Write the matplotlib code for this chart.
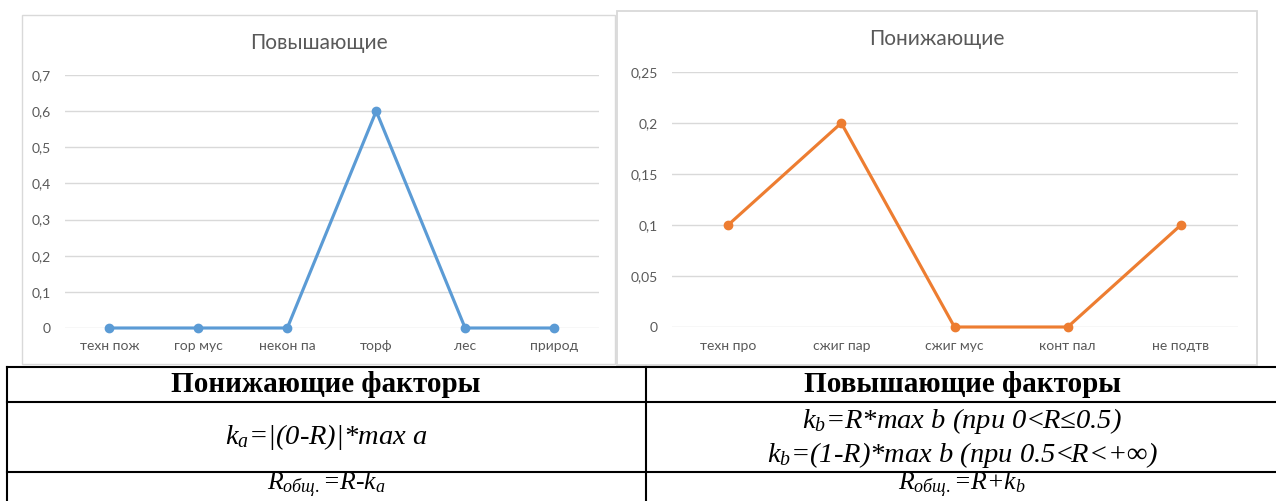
import matplotlib.pyplot as plt
from matplotlib.patches import Rectangle
from matplotlib.lines import Line2D

# chart data
up_title = 'Повышающие'
up_cats = ['техн пож', 'гор мус', 'некон па', 'торф', 'лес', 'природ']
up_vals = [0, 0, 0, 0.6, 0, 0]
up_ticks = [0, 0.1, 0.2, 0.3, 0.4, 0.5, 0.6, 0.7]
up_ticklabels = ['0', '0,1', '0,2', '0,3', '0,4', '0,5', '0,6', '0,7']

down_title = 'Понижающие'
down_cats = ['техн про', 'сжиг пар', 'сжиг мус', 'конт пал', 'не подтв']
down_vals = [0.1, 0.2, 0, 0, 0.1]
down_ticks = [0, 0.05, 0.1, 0.15, 0.2, 0.25]
down_ticklabels = ['0', '0,05', '0,1', '0,15', '0,2', '0,25']

# table texts
head_left = 'Понижающие факторы'
head_right = 'Повышающие факторы'
ka_text = '$k_a$=|(0-R)|*max a'
kb_text1 = '$k_b$=R*max b (при 0<R≤0.5)'
kb_text2 = '$k_b$=(1-R)*max b (при 0.5<R<+∞)'
r_left = '$R_{общ.}$=R-$k_a$'
r_right = '$R_{общ.}$=R+$k_b$'

W, H = 1276, 501
plt.rcParams['mathtext.fontset'] = 'custom'
plt.rcParams['mathtext.it'] = 'Liberation Serif:italic'
plt.rcParams['mathtext.rm'] = 'Liberation Serif'

GREY = '#595959'
GRID = '#D9D9D9'
sans = ['Lato', 'DejaVu Sans']

fig = plt.figure(figsize=(W / 100, H / 100), dpi=100)


def fx(x):
    return x / W


def fy(y):
    return 1 - y / H


# chart frames
fig.add_artist(Rectangle((fx(22.5), fy(364)), fx(615) - fx(22.5), fy(14.5) - fy(364),
                         transform=fig.transFigure, fill=False, edgecolor=GRID, lw=1))
fig.add_artist(Rectangle((fx(617), fy(365)), fx(1257) - fx(617), fy(10.5) - fy(365),
                         transform=fig.transFigure, fill=False, edgecolor=GRID, lw=1.3))


def line_chart(box, cats, vals, ticks, labels, color, title, title_xy):
    x0, y0, x1, y1 = box
    ax = fig.add_axes([fx(x0), fy(y1), fx(x1) - fx(x0), fy(y0) - fy(y1)])
    xs = list(range(len(cats)))
    ax.plot(xs, vals, color=color, lw=2.25, marker='o', markersize=6,
            solid_capstyle='round', zorder=3, clip_on=False)
    ax.set_xlim(-0.5, len(cats) - 0.5)
    ax.set_ylim(ticks[0], ticks[-1])
    ax.set_yticks(ticks)
    ax.set_yticklabels(labels)
    ax.set_xticks(xs)
    ax.set_xticklabels(cats)
    for s in ax.spines.values():
        s.set_visible(False)
    ax.grid(axis='y', color=GRID, lw=1)
    ax.set_axisbelow(True)
    ax.tick_params(axis='both', length=0, labelsize=10, labelcolor=GREY)
    ax.tick_params(axis='y', pad=10)
    ax.tick_params(axis='x', pad=9)
    for t in ax.get_xticklabels() + ax.get_yticklabels():
        t.set_family(sans)
    fig.text(fx(title_xy[0]), fy(title_xy[1]), title, ha='center', va='center',
             fontsize=15, color=GREY, family=sans)
    return ax


line_chart((65, 75, 598.5, 328), up_cats, up_vals, up_ticks, up_ticklabels,
           '#5B9BD5', up_title, (319, 43))
line_chart((671.5, 72, 1237.5, 327), down_cats, down_vals, down_ticks, down_ticklabels,
           '#ED7D31', down_title, (937, 39))

# table below the charts
for y in [367, 402, 472]:
    fig.add_artist(Line2D([fx(7), 1], [fy(y), fy(y)], transform=fig.transFigure,
                          color='black', lw=1.5))
for x in [7, 646]:
    fig.add_artist(Line2D([fx(x), fx(x)], [fy(367), 0], transform=fig.transFigure,
                          color='black', lw=1.5))

serif = ['Liberation Serif', 'DejaVu Serif']
fig.text(fx(326), fy(385), head_left, ha='center', va='center', fontsize=21,
         fontweight='bold', family=serif)
fig.text(fx(962), fy(385), head_right, ha='center', va='center', fontsize=21,
         fontweight='bold', family=serif)
fig.text(fx(326), fy(437), ka_text, ha='center', va='center', fontsize=20.5,
         style='italic', family=serif)
fig.text(fx(962), fy(421), kb_text1, ha='center', va='center', fontsize=20.5,
         style='italic', family=serif)
fig.text(fx(962), fy(455), kb_text2, ha='center', va='center', fontsize=20.5,
         style='italic', family=serif)
fig.text(fx(326), fy(499.5), r_left, ha='center', va='bottom', fontsize=18.5,
         style='italic', family=serif)
fig.text(fx(962), fy(499.5), r_right, ha='center', va='bottom', fontsize=18.5,
         style='italic', family=serif)

fig.savefig('out.png', dpi=100)
